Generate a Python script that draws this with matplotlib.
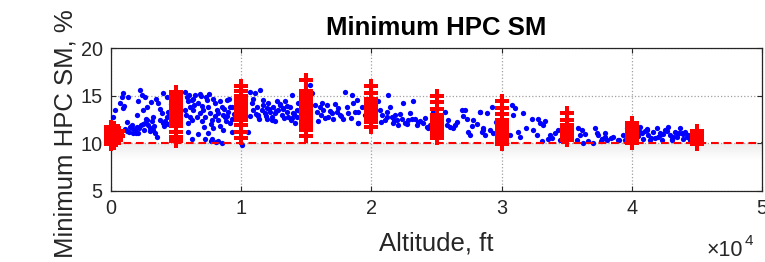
import numpy as np
import matplotlib
matplotlib.use('Agg')
import matplotlib.pyplot as plt

plt.rcParams['font.family'] = ['Liberation Sans', 'DejaVu Sans']

# blue cloud: altitude (ft), minimum HPC surge margin (%)
blue_alt = [
    947, 819, 691, 307, 947, 1331, 1459, 1587, 1843, 1971, 2099, 2227, 2099, 1971,
    2355, 2611, 2483, 2739, 2611, 2867, 2995, 3123, 3251, 3379, 3507, 3635, 4019,
    3891, 4019, 4147, 4275, 4403, 4275, 1200, 1700, 2300, 2800, 3300, 1000, 154,
    1100, 1400, 1650, 1900, 2150, 2450, 2700, 3000, 3200, 3450, 3750, 4100, 4500,
    4600, 3800, 2550, 1250, 3050, 4350,
    5683, 5811, 5939, 6067, 6195, 6323, 6451, 6579, 6707, 6835, 6963, 7091, 7219,
    7347, 7475, 7603, 7731, 7859, 7987, 8115, 8243, 8371, 8499, 8627, 8755, 8883,
    9011, 9139, 9267, 5939, 6195, 7219, 7731, 8243, 8499, 5939, 5683, 6067, 6900,
    7500, 8100, 8900, 5750, 6000, 6250, 6400, 6650, 6800, 7000, 7150, 7300, 7450,
    7650, 7800, 8000, 8200, 8400, 8600, 8800, 9050, 9300, 9450, 6300, 7700, 8700,
    9139, 9267, 10035, 10547, 10675, 11059, 11443, 10803, 10931, 11187, 11315,
    11571, 11699, 11827, 11955, 12083, 12211, 12339, 12467, 12595, 12723, 12851,
    12979, 13107, 13235, 13363, 13491, 13619, 13747, 13875, 14003, 14131, 14259,
    14387, 15283, 15411, 15795, 15923, 16051, 16307, 16563, 16691, 16947, 17075,
    17331, 17587, 17971, 18227, 18483, 18611, 18739, 18995, 11300, 12000, 12600,
    13200, 13900, 14600, 16200, 16800, 17400, 17800, 10650, 10900, 11150, 11400,
    11650, 11900, 12150, 12400, 12700, 12950, 13300, 13550, 13800, 14050, 14300,
    14500, 15650, 16100, 16450, 17200, 17700, 18100, 18400,
    18867, 18995, 19251, 18995, 20531, 20659, 20787, 21043, 21171, 21299, 21427,
    21555, 21683, 21811, 21939, 22067, 22323, 22451, 22579, 22835, 22963, 23219,
    23347, 23475, 23731, 23987, 24243, 24371, 24755, 25651, 25779, 26035, 26291,
    26419, 26931, 27187, 27315, 27443, 27571, 27827, 28339, 28467, 28595,
    19500, 20700, 21200, 21700, 22200, 22700, 23100, 23600, 24100, 24500, 25900,
    26600, 27000, 27700, 28100,
    28339, 28851, 28595, 28723, 29235, 29107, 29363, 30771, 30899, 31027, 30643,
    31283, 31411, 31667, 32307, 32435, 32691, 32819, 32947, 33203, 33331, 33075,
    33587, 33715, 34099, 34355, 34483, 35763, 35891, 36147, 36019, 36275, 36659,
    37171, 37299, 37427, 37043, 37683, 38067, 37939, 29600, 31900, 33900, 36400,
    37600, 38400, 39000,
    37683, 37939, 38579, 38963, 39347, 39603, 39475, 40371, 40627, 40755, 40883,
    41139, 41267, 41395, 41651, 41907, 42035, 42163, 42291, 42547, 42803, 42931,
    43059, 43315, 43443, 43699, 43827, 43955, 44083, 44211, 44339, 44595, 40500,
    41000, 41800, 42400, 43100, 43600, 44400, 40600, 41500, 42200, 42700, 43200,
    43900, 44500, 41200, 42600, 43400,
]
blue_sm = [
    15.25, 14.9, 14.2, 13.5, 13.7, 14.9, 11.75, 11.6, 11.4, 11.75, 11.05, 15.6, 14.4, 13.0,
    15.1, 14.9, 13.5, 13.85, 12.1, 11.9, 11.6, 12.3, 11.4, 11.05, 10.7, 14.2, 15.25,
    13.15, 12.1, 12.3, 12.8, 13.3, 14.9, 11.3, 11.1, 11.9, 12.4, 11.8, 13.9, 12.8,
    11.5, 11.2, 11.9, 11.1, 11.6, 12.0, 12.6, 11.3, 12.8, 14.6, 13.6, 11.8, 12.9,
    14.1, 12.5, 11.4, 12.2, 14.3, 12.0,
    15.4, 14.9, 14.4, 13.85, 14.55, 13.5, 15.1, 12.8, 14.2, 13.15, 12.3, 13.5, 12.8,
    14.55, 13.85, 13.15, 12.45, 11.6, 14.2, 13.5, 12.45, 14.4, 13.85, 11.4, 12.8, 14.55,
    13.3, 12.1, 13.85, 11.2, 10.5, 10.5, 10.5, 10.2, 10.0, 12.1, 13.5, 12.8, 15.0,
    15.2, 10.1, 12.9, 13.0, 15.1, 12.5, 14.0, 11.0, 15.2, 13.9, 11.7, 14.9, 11.1,
    12.0, 14.7, 12.9, 13.2, 11.8, 13.0, 12.3, 14.6, 12.6, 13.1, 14.7, 10.2, 13.6,
    13.85, 11.2, 9.83, 11.2, 15.4, 15.25, 15.6, 14.2, 13.5, 13.85, 13.0,
    13.5, 14.0, 13.15, 13.7, 14.2, 13.3, 12.8, 13.85, 12.3, 14.4, 13.5,
    14.0, 13.0, 13.7, 14.4, 13.3, 12.8, 13.85, 15.1, 13.15, 12.1, 13.5,
    14.2, 16.1, 15.25, 13.3, 12.3, 13.85, 13.5, 14.0, 12.8, 13.15, 12.6,
    13.3, 13.0, 15.4, 13.15, 15.1, 14.2, 13.3, 12.1, 12.9, 12.6, 13.2,
    13.6, 12.7, 13.2, 14.2, 13.4, 13.7, 12.6, 12.9, 14.6, 13.1, 12.6,
    14.5, 12.9, 13.6, 12.4, 13.4, 14.1, 12.7, 13.9, 12.5, 13.1, 12.8,
    13.4, 14.0, 13.0, 12.7, 14.1, 12.9, 13.8, 12.7,
    14.55, 13.3, 13.85, 12.1, 14.4, 13.5, 13.0, 12.45, 13.3, 15.1, 13.85,
    12.8, 12.1, 13.0, 12.45, 11.9, 12.6, 14.2, 12.1, 12.45, 13.15, 14.4,
    12.6, 11.9, 12.3, 12.1, 11.75, 11.6, 13.3, 13.3, 11.9, 11.75, 11.6,
    11.9, 13.5, 13.5, 12.6, 11.2, 10.9, 12.45, 13.3, 11.2, 11.6,
    13.0, 12.2, 12.8, 12.4, 13.1, 12.0, 12.6, 12.2, 12.7, 11.9, 12.5,
    12.2, 12.9, 11.8, 12.0,
    13.3, 13.15, 11.4, 10.9, 13.85, 11.4, 11.05, 14.0, 13.0, 13.7, 10.9,
    11.2, 10.7, 13.15, 12.6, 11.4, 10.9, 12.6, 12.1, 11.9, 12.3, 10.2,
    10.5, 10.9, 11.05, 11.4, 10.35, 10.35, 11.6, 11.4, 10.9, 10.0, 10.2,
    11.6, 11.05, 10.9, 10.0, 10.5, 10.35, 11.05, 12.2, 11.6, 10.6, 11.0,
    10.2, 10.6, 10.3,
    10.5, 10.7, 10.7, 10.35, 10.9, 11.6, 10.35, 11.4, 11.75, 11.05, 10.5,
    11.4, 10.9, 10.35, 11.2, 11.6, 10.7, 11.05, 10.35, 11.4, 11.75, 10.9,
    10.5, 11.2, 10.7, 11.6, 11.05, 10.5, 11.2, 10.7, 10.9, 10.5, 10.8,
    11.3, 10.6, 11.0, 10.4, 11.1, 10.8, 11.2, 10.6, 10.9, 11.3, 10.7,
    11.0, 10.4, 11.5, 11.4, 11.1,
]

# red crosses: stacks at the design altitudes
red_alt = (
    [0, 0, 0, 0, 0, 0, 150, 150, 300, 300, 450, 550, 200, 400, 500, 250]
    + [5000] * 21 + [10000] * 17 + [15000] * 21 + [20000] * 15
    + [25000] * 15 + [30000] * 13 + [35000] * 8 + [40000] * 10 + [45000] * 6
)
red_sm = (
    [9.9, 10.3, 10.7, 11.1, 11.4, 11.7, 10.2, 11.4, 10.6, 11.2, 10.9, 10.8, 11.6, 10.3,
     11.3, 10.0]
    + [10.2, 10.7, 11.2, 11.8, 12.1, 12.3, 12.5, 12.7, 12.9, 13.1, 13.3, 13.5, 13.7,
       13.9, 14.1, 14.3, 14.5, 14.7, 14.9, 15.1, 15.4]
    + [10.6, 11.2, 11.9, 12.5, 12.7, 12.9, 13.1, 13.3, 13.5, 13.7, 13.9, 14.1, 14.3,
       14.6, 15.0, 15.5, 16.0]
    + [10.8, 11.4, 11.8, 12.0, 12.2, 12.4, 12.6, 12.8, 13.0, 13.2, 13.4, 13.6, 13.8,
       14.0, 14.2, 14.4, 14.6, 14.8, 15.1, 15.5, 16.6]
    + [11.7, 12.2, 12.4, 12.6, 12.8, 13.0, 13.2, 13.4, 13.6, 13.8, 14.0, 14.3, 14.7,
       15.3, 16.0]
    + [10.6, 10.8, 11.0, 11.2, 11.4, 11.6, 11.8, 12.0, 12.2, 12.4, 12.7, 13.0, 13.6,
       14.3, 15.0]
    + [9.9, 10.3, 10.6, 10.8, 11.0, 11.2, 11.4, 11.7, 12.0, 12.5, 13.1, 13.7, 14.4]
    + [10.4, 10.7, 10.9, 11.2, 11.5, 11.9, 12.5, 13.2]
    + [10.0, 10.3, 10.5, 10.7, 10.9, 11.1, 11.3, 11.5, 11.7, 12.1]
    + [9.9, 10.3, 10.6, 10.8, 11.0, 11.3]
)

limit_alt = [0, 50000]
limit_sm = [10, 10]

x_ticks = [0, 10000, 20000, 30000, 40000, 50000]
x_labels = ['0', '1', '2', '3', '4', '5']
y_ticks = [5, 10, 15, 20]

W, H = 765, 262
fig = plt.figure(figsize=(W / 100, H / 100), dpi=100)
ax = fig.add_axes([111 / W, 71 / H, 651 / W, 143 / H])

dark = '#262626'

# faint shadow under the limit line
grad = np.linspace(0.93, 1.0, 50).reshape(-1, 1)
ax.imshow(grad, cmap='gray', vmin=0, vmax=1, aspect='auto',
          extent=[0, 50000, 8.3, 9.9], zorder=0.5, interpolation='bilinear')

ax.plot(blue_alt, blue_sm, 'o', color='#0000ff', markersize=3.8,
        markeredgewidth=0, zorder=3, clip_on=False)
ax.plot(red_alt, red_sm, 'P', color='#ff0000', markersize=10,
        markeredgewidth=0, zorder=4, clip_on=False)
ax.plot(limit_alt, limit_sm, color='#ff0000', lw=1.5,
        ls=(0, (3.7, 2.3)), zorder=5)

ax.set_xlim(0, 50000)
ax.set_ylim(5, 20)
ax.set_xticks(x_ticks)
ax.set_xticklabels(x_labels)
ax.set_yticks(y_ticks)
ax.grid(True, color='#a0a0a0', ls=':', lw=0.9, zorder=1)
ax.set_axisbelow(True)

ax.tick_params(direction='in', length=3.5, width=0.8, colors=dark,
               labelsize=14.3, top=True, right=True, pad=6)
for s in ax.spines.values():
    s.set_color(dark)
    s.set_linewidth(0.9)

fig.text(436 / W, 1 - 28 / H, 'Minimum HPC SM', ha='center', va='center',
         fontsize=18.5, fontweight='bold', color='black')
fig.text(436 / W, 1 - 243 / H, 'Altitude, ft', ha='center', va='center',
         fontsize=18.5, color=dark)
fig.text(66 / W, 1 - 134 / H, 'Minimum HPC SM, %', ha='center', va='center',
         rotation=90, fontsize=18.5, color=dark)
fig.text(707 / W, 1 - 251 / H, '\u00d710', ha='left', va='center',
         fontsize=15.5, color=dark)
fig.text(745 / W, 1 - 241 / H, '4', ha='left', va='center',
         fontsize=11, color=dark)

fig.savefig('out.png', dpi=100)
